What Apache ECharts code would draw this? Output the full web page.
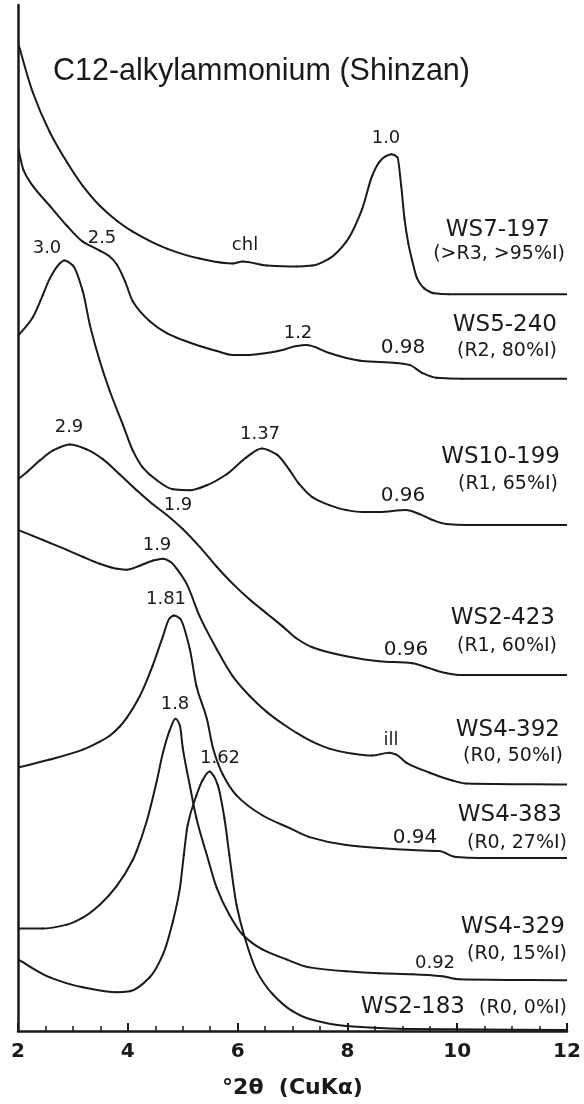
<!DOCTYPE html>
<html>
<head>
<meta charset="utf-8">
<script src="https://cdn.jsdelivr.net/npm/echarts@6/dist/echarts.min.js"></script>
<style>
html,body{margin:0;padding:0;background:#fff;}
#chart{width:584px;height:1104px;}
</style>
</head>
<body>
<div id="chart"></div>
<script>
// ---------------- DATA ----------------
const chartTitle = 'C12-alkylammonium (Shinzan)';
const xAxisTitle = '°2θ  (CuKα)';
const xTicks = [2, 4, 6, 8, 10, 12];

// Stacked (offset) XRD traces: [°2θ, intensity in arbitrary units]
const ws7_197 = [[2.00,994],[2.27,944],[2.58,904],[2.89,874],[3.18,850],[3.49,830],[3.80,815],[4.09,804],[4.71,787],[5.31,777],[5.91,772],[6.09,774],[6.53,770],[7.07,769],[7.36,770],[7.67,777],[7.98,794],[8.27,827],[8.45,860],[8.58,874],[8.70,880],[8.80,882],[8.91,879],[8.98,850],[9.04,817],[9.11,792],[9.18,775],[9.27,757],[9.40,747],[9.58,742],[9.85,741],[12.00,741]];
const ws5_240 = [[2.00,889],[2.10,866],[2.27,850],[2.58,830],[2.89,810],[3.18,794],[3.49,785],[3.67,779],[3.80,771],[3.95,754],[4.09,734],[4.40,714],[4.71,702],[5.00,695],[5.31,689],[5.62,684],[5.91,680],[6.22,680],[6.53,682],[6.82,685],[7.07,689],[7.25,690],[7.67,682],[7.98,677],[8.27,674],[8.89,672],[9.13,670],[9.36,662],[9.62,657],[10.09,656],[12.00,656]];
const ws10_199 = [[2.00,699],[2.27,718],[2.45,740],[2.58,757],[2.76,772],[2.84,775],[3.00,770],[3.18,744],[3.31,710],[3.49,674],[3.67,644],[3.91,610],[4.09,584],[4.27,567],[4.53,554],[4.82,545],[5.13,544],[5.44,549],[5.80,560],[6.16,577],[6.44,586],[6.71,580],[6.95,564],[7.11,551],[7.36,537],[7.67,529],[7.98,524],[8.27,522],[8.58,522],[9.07,524],[9.31,520],[9.55,514],[9.80,510],[10.16,509],[12.00,509]];
const ws2_423 = [[2.00,555],[2.16,562],[2.40,574],[2.64,584],[2.95,590],[3.25,585],[3.55,575],[3.85,560],[4.16,544],[4.45,530],[4.71,519],[5.00,505],[5.31,487],[5.62,467],[5.91,450],[6.22,434],[6.53,420],[6.82,407],[7.07,395],[7.36,386],[7.98,377],[8.58,372],[9.18,370],[9.49,365],[9.80,360],[10.09,358],[12.00,358]];
const ws4_392 = [[2.00,504],[2.27,498],[2.58,491],[2.89,484],[3.18,477],[3.49,470],[3.80,465],[3.98,464],[4.22,468],[4.45,473],[4.64,475],[4.80,471],[4.89,465],[5.07,450],[5.31,417],[5.62,384],[5.91,357],[6.22,337],[6.53,321],[6.82,309],[7.07,300],[7.36,291],[7.67,284],[7.98,280],[8.45,277],[8.76,280],[8.89,278],[9.07,270],[9.49,260],[9.91,252],[10.16,249],[12.00,248]];
const ws4_383 = [[2.00,265],[2.58,273],[3.18,283],[3.49,291],[3.67,297],[3.85,306],[3.98,315],[4.22,337],[4.45,367],[4.64,397],[4.76,415],[4.84,418],[4.95,415],[5.13,384],[5.25,347],[5.44,314],[5.55,285],[5.73,258],[5.98,237],[6.45,217],[6.95,204],[7.31,195],[7.98,187],[8.58,184],[9.18,182],[9.67,181],[9.98,175],[10.40,174],[12.00,174]];
const ws4_329 = [[2.00,103],[2.45,103],[2.89,107],[3.18,114],[3.49,127],[3.80,146],[4.09,172],[4.16,181],[4.35,212],[4.53,252],[4.64,280],[4.76,302],[4.87,314],[4.95,307],[5.00,285],[5.13,247],[5.25,214],[5.44,177],[5.62,144],[5.85,117],[6.09,97],[6.45,82],[6.89,72],[7.31,64],[7.98,60],[8.58,58],[9.18,57],[9.73,55],[10.04,52],[12.00,51]];
const ws2_183 = [[2.00,72],[2.58,54],[3.18,44],[3.80,39],[4.04,40],[4.40,54],[4.64,77],[4.82,110],[4.95,144],[5.02,177],[5.09,207],[5.25,237],[5.36,252],[5.49,261],[5.56,257],[5.64,247],[5.76,214],[5.85,177],[5.98,127],[6.13,94],[6.35,60],[6.64,37],[7.00,20],[7.31,12],[7.98,5],[8.58,3],[9.18,2],[12.00,1]];

const traces = [ws7_197, ws5_240, ws10_199, ws2_423, ws4_392, ws4_383, ws4_329, ws2_183];
const sampleNames = ['WS7-197','WS5-240','WS10-199','WS2-423','WS4-392','WS4-383','WS4-329','WS2-183'];
const sampleConditions = ['(>R3, >95%I)','(R2, 80%I)','(R1, 65%I)','(R1, 60%I)','(R0, 50%I)','(R0, 27%I)','(R0, 15%I)','(R0, 0%I)'];
const peakLabels = ['1.0','chl','3.0','2.5','1.2','0.98','2.9','1.37','0.96','1.9','0.96','1.9','ill','1.81','0.94','1.8','1.62','0.92'];

// ---------------- LAYOUT (pixel positions of annotation text) ----------------
const grid = {left:18, right:17, top:5, bottom:67};
const nameLayout = [[550,230],[557,325],[560,457],[555,618],[560,730],[562,815],[565,927],[465,1007]];
const condLayout = [[565,254],[557,351],[558,484],[557,646],[563,756],[567,843],[567,954],[567,1008]];
const peakLayout = [[386,138,18],[245,245,18],[47,248,18],[102,238,18],[298,333,18],[403,348,20],[69,427,18],[260,434,18],[403,496,20],[178,505,18],[406,650,20],[157,545,18],[391,740,18],[166,599,18],[415,838,20],[175,704,18],[220,758,18],[435,963,18]];

const INK = '#1a1a1a';
const FONT = "'DejaVu Sans', Verdana, sans-serif";

const graphics = [];
graphics.push({type:'text', x:53, y:72, style:{text:chartTitle, font:"30.5px 'Liberation Sans', Arial, sans-serif", fill:INK, textVerticalAlign:'middle'}});
sampleNames.forEach((n,i)=>{
  graphics.push({type:'text', x:nameLayout[i][0], y:nameLayout[i][1], style:{text:n, font:"23px "+FONT, fill:INK, textAlign:'right', textVerticalAlign:'middle'}});
  graphics.push({type:'text', x:condLayout[i][0], y:condLayout[i][1], style:{text:sampleConditions[i], font:"19px "+FONT, fill:INK, textAlign:'right', textVerticalAlign:'middle'}});
});
peakLabels.forEach((t,i)=>{
  const p = peakLayout[i];
  graphics.push({type:'text', x:p[0], y:p[1], style:{text:t, font:p[2]+"px "+FONT, fill:INK, textAlign:'center', textVerticalAlign:'middle'}});
});

// Monotone cubic (Fritsch-Carlson) segment renderer, working on points mapped through the chart's axes
function makeRenderItem(pts){
  return function(params, api){
    const i = params.dataIndex;
    const n = pts.length;
    if (i >= n - 1) return null;
    const P = pts.map(p => api.coord(p));
    const h = [], d = [];
    for (let j = 0; j < n - 1; j++){
      h[j] = P[j+1][0] - P[j][0];
      d[j] = (P[j+1][1] - P[j][1]) / (h[j] || 1e-6);
    }
    const tangent = (j) => {
      if (j === 0) return d[0];
      if (j === n - 1) return d[n-2];
      if (d[j-1] * d[j] <= 0) return 0;
      const w1 = 2*h[j] + h[j-1], w2 = h[j] + 2*h[j-1];
      return (w1 + w2) / (w1 / d[j-1] + w2 / d[j]);
    };
    const m0 = tangent(i), m1 = tangent(i+1);
    const x0 = P[i][0], y0 = P[i][1], x1 = P[i+1][0], y1 = P[i+1][1];
    const s = (x1 - x0) / 3;
    return {
      type:'bezierCurve',
      shape:{x1:x0, y1:y0, x2:x1, y2:y1, cpx1:x0 + s, cpy1:y0 + m0*s, cpx2:x1 - s, cpy2:y1 - m1*s},
      style:{stroke:INK, lineWidth:2, fill:null, lineCap:'round', lineJoin:'round'},
      silent:true
    };
  };
}

const chart = echarts.init(document.getElementById('chart'), null, {renderer:'canvas'});
chart.setOption({
  animation:false,
  backgroundColor:'#fff',
  grid:{left:grid.left, right:grid.right, top:grid.top, bottom:grid.bottom, containLabel:false},
  xAxis:{
    type:'value', min:xTicks[0], max:xTicks[xTicks.length-1], interval:xTicks[1]-xTicks[0],
    name:xAxisTitle, nameLocation:'middle', nameGap:46,
    nameTextStyle:{fontFamily:FONT, fontWeight:'bold', fontSize:22, color:INK},
    axisLine:{show:true, onZero:false, lineStyle:{color:INK, width:2.5}},
    axisTick:{show:true, inside:true, length:8, lineStyle:{color:INK, width:2}},
    minorTick:{show:true, splitNumber:4, length:5, lineStyle:{color:INK, width:1.5}},
    axisLabel:{show:true, margin:11, fontFamily:FONT, fontWeight:'bold', fontSize:20, color:INK},
    splitLine:{show:false}, minorSplitLine:{show:false}
  },
  yAxis:{
    type:'value', min:0, max:1032,
    axisLine:{show:true, onZero:false, lineStyle:{color:INK, width:2.5}},
    axisTick:{show:false}, axisLabel:{show:false}, splitLine:{show:false}
  },
  series: traces.map((d,i)=>({
    name:sampleNames[i], type:'custom', data:d, encode:{x:0, y:1},
    renderItem: makeRenderItem(d), clip:true, z:3
  })),
  graphic: graphics
});
</script>
</body>
</html>
